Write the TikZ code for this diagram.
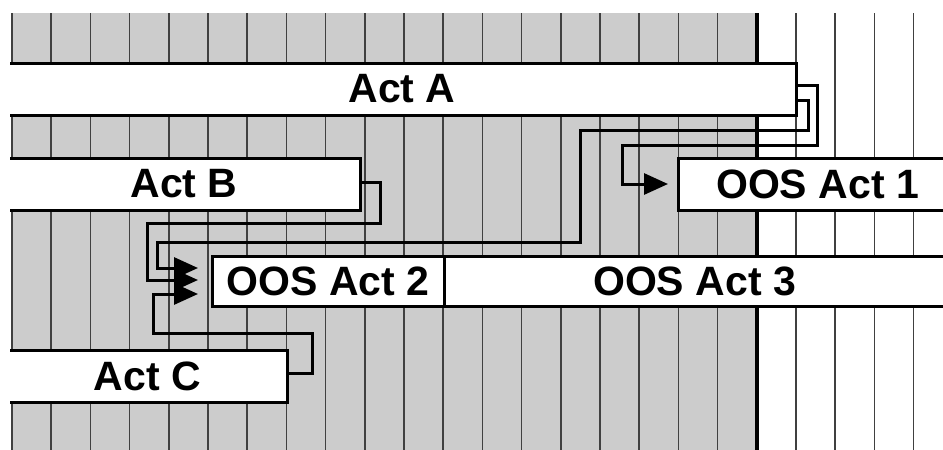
\documentclass[tikz,border=0pt]{standalone}
\usepackage{fontspec}
\setmainfont{Liberation Sans}
\usetikzlibrary{arrows.meta,positioning}
\definecolor{greyfill}{gray}{0.8}
\begin{document}
\begin{tikzpicture}[
  x=1pt, y=-1pt,
  bar/.style={draw, line width=3pt, fill=white, outer sep=0pt, inner sep=0pt, font=\fontsize{41}{41}\selectfont\bfseries},
  gridline/.style={black!75, line width=1.6pt},
  link/.style={line width=3pt, -{Triangle[length=24pt,width=21pt]}}
]
\useasboundingbox (0,0) rectangle (943,450);
\begin{scope}
\clip (10,13) rectangle (943,450);
\fill[greyfill] (12,13) rectangle (756,450);
\foreach \i in {0,...,23}
  \draw[gridline] ({12+39.2*\i},13) -- ++(0,437);
\draw[line width=4.5pt] (756.8,13) -- (756.8,450);
% bars
\node[bar, minimum width=788pt, minimum height=52pt, anchor=north east] (actA) at (796,63) {Act A};
\node[bar, minimum width=352pt, minimum height=52pt, anchor=north east] (actB) at (360,158) {Act B};
\node[bar, minimum width=279pt, minimum height=52pt, anchor=north west] (oos1) at (678,158) {OOS Act 1};
\node[bar, minimum width=232pt, minimum height=50pt, anchor=north west] (oos2) at (212,256) {OOS Act 2};
\node[bar, minimum width=501pt, minimum height=50pt, right=0pt of oos2] (oos3) {OOS Act 3};
\node[bar, minimum width=279pt, minimum height=52pt, anchor=north east] (actC) at (287,350) {Act C};
% links
\draw[link] ([yshift=4pt]actA.east) -- ++(21,0) |- (622,145) |- ([xshift=-10pt]oos1.west);
\draw[link] ([yshift=-11pt]actA.east) -- ++(12,0) |- (580,130) |- (157,242) |- ([xshift=-14pt,yshift=13pt]oos2.west);
\draw[link] ([yshift=2pt]actB.east) -- ++(20,0) |- (147,223) |- ([xshift=-14pt,yshift=1pt]oos2.west);
\draw[link] ([yshift=3pt]actC.east) -- ++(25,0) |- (153,333) |- ([xshift=-14pt,yshift=-13pt]oos2.west);
\end{scope}
\end{tikzpicture}
\end{document}
